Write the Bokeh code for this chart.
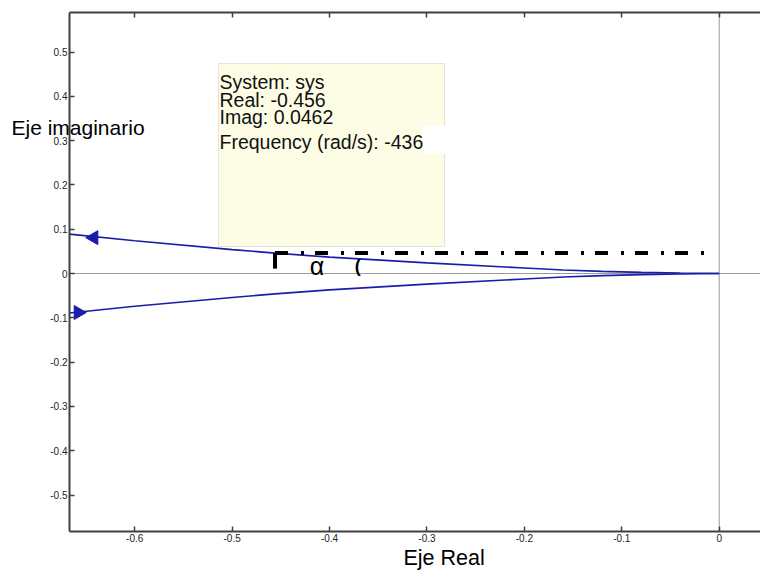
from bokeh.plotting import figure
from bokeh.models import (Range1d, LinearAxis, FixedTicker, CustomJSTickFormatter,
                          BoxAnnotation, Label)
from bokeh.embed import file_html
from bokeh.resources import INLINE

# ---- data ----
upper_re = [-0.667, -0.6, -0.5, -0.456, -0.4, -0.3, -0.2, -0.16, -0.12, -0.08, -0.04, 0.0]
upper_im = [0.089, 0.074, 0.054, 0.046, 0.037, 0.024, 0.0125, 0.0078, 0.0048, 0.0026, 0.001, 0.0]
lower_re = upper_re
lower_im = [-v for v in upper_im]
arrow_re = [-0.642, -0.658]
arrow_im = [0.081, -0.088]
point_re = -0.456
point_im = 0.0462
dash_end_re = -0.015
x_ticks = [-0.6, -0.5, -0.4, -0.3, -0.2, -0.1, 0]
y_ticks = [-0.5, -0.4, -0.3, -0.2, -0.1, 0, 0.1, 0.2, 0.3, 0.4, 0.5]
tip_lines = ["System: sys", "Real: -0.456", "Imag: 0.0462", "Frequency (rad/s): -436"]

# axes box (data limits of the MATLAB axes)
X_MIN, X_MAX = -0.667, 0.0424
Y_MIN, Y_MAX = -0.582, 0.589

FONT = "Liberation Sans"
BLUE = "#1c1caa"
AX = "#404040"

# whole canvas is the frame; axes pinned at the box edges
p = figure(width=760, height=570, output_backend="svg", toolbar_location=None,
           x_range=Range1d(-0.7378, 0.0424), y_range=Range1d(-0.6704, 0.6163),
           min_border_left=0, min_border_right=0, min_border_top=0, min_border_bottom=0,
           x_axis_location=None, y_axis_location=None)
p.outline_line_color = None
p.xgrid.visible = False
p.ygrid.visible = False

fmt = CustomJSTickFormatter(code="const v = Math.round(tick*10)/10; return v === 0 ? '0' : v.toFixed(1);")

def style(ax, labels=True):
    ax.axis_line_color = AX
    ax.axis_line_width = 2
    ax.major_tick_line_color = AX
    ax.major_tick_line_width = 1.5
    ax.major_tick_in = 5
    ax.major_tick_out = 0
    ax.minor_tick_line_color = None
    ax.formatter = fmt
    if labels:
        ax.major_label_text_font = FONT
        ax.major_label_text_font_size = "10px"
        ax.major_label_text_color = "#222222"
        ax.major_label_standoff = 3
    else:
        ax.major_label_text_font_size = "1px"
        ax.major_label_text_alpha = 0
        ax.major_label_standoff = 0

xb = LinearAxis(ticker=FixedTicker(ticks=x_ticks), fixed_location=Y_MIN, bounds=(X_MIN, X_MAX))
style(xb)
p.add_layout(xb, "below")
xa = LinearAxis(ticker=FixedTicker(ticks=x_ticks), fixed_location=Y_MAX, bounds=(X_MIN, X_MAX))
style(xa, labels=False)
p.add_layout(xa, "above")
yl = LinearAxis(ticker=FixedTicker(ticks=y_ticks), fixed_location=X_MIN, bounds=(Y_MIN, Y_MAX))
style(yl)
yl.major_label_standoff = 2
p.add_layout(yl, "left")

# zero lines inside the axes box
p.line([0, 0], [Y_MIN, Y_MAX], line_color="#9a9a9a", line_width=1)
p.line([X_MIN, X_MAX], [0, 0], line_color="#9a9a9a", line_width=1)

# Nyquist curve
p.line(upper_re, upper_im, line_color=BLUE, line_width=1.6)
p.line(lower_re, lower_im, line_color=BLUE, line_width=1.6)
p.scatter(arrow_re[:1], arrow_im[:1], marker="triangle", size=14, angle=1.5708,
          fill_color=BLUE, line_color=BLUE)
p.scatter(arrow_re[1:], arrow_im[1:], marker="triangle", size=14, angle=-1.5708,
          fill_color=BLUE, line_color=BLUE)

# dash-dot reference line and corner
p.line([point_re, dash_end_re], [point_im, point_im], line_color="black", line_width=4,
       line_dash="13 13 3 11")
p.line([point_re, point_re], [point_im, 0.011], line_color="black", line_width=4)

p.add_layout(Label(x=-0.413, y=0.018, text="α", text_font=FONT, text_font_size="25px",
                   text_align="center", text_baseline="middle", text_color="black"))
p.add_layout(Label(x=-0.371, y=0.016, text="(", text_font=FONT, text_font_size="18px",
                   text_font_style="bold", text_align="center", text_baseline="middle",
                   text_color="black"))

# data tip box
p.add_layout(BoxAnnotation(left=-0.514, right=-0.282, top=0.474, bottom=0.061,
                           fill_color="#fdfde6", fill_alpha=1, line_color="#a8a8a8",
                           line_width=1))
p.add_layout(BoxAnnotation(left=-0.3046, right=-0.2815, top=0.334, bottom=0.271,
                           fill_color="white", fill_alpha=1, line_color=None))
tip_y = [0.433, 0.391, 0.354, 0.298]
for t, yy in zip(tip_lines, tip_y):
    p.add_layout(Label(x=-0.513, y=yy, text=t, text_font=FONT, text_font_size="19.5px",
                       text_baseline="middle", text_color="#111111"))
p.line([-0.3037, -0.3037], [0.315, 0.26], line_color="#777777", line_width=1)

# axis titles
p.add_layout(Label(x=11, y=127, x_units="canvas", y_units="canvas", text="Eje imaginario",
                   text_font=FONT, text_font_size="21px", text_baseline="middle",
                   text_color="black"))
p.add_layout(Label(x=403, y=557, x_units="canvas", y_units="canvas", text="Eje Real",
                   text_font=FONT, text_font_size="21.5px", text_baseline="middle",
                   text_color="black"))

open("out.html", "w").write(file_html(p, INLINE))
